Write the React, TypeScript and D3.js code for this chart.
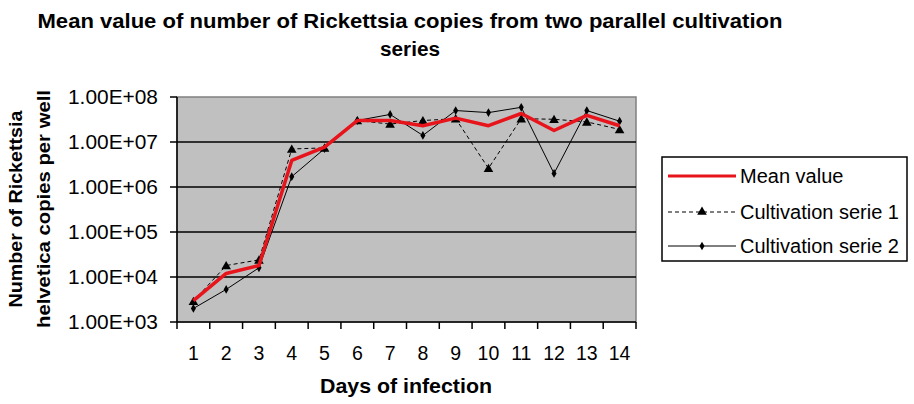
import React from "react";
import * as d3 from "d3";

const days = [1, 2, 3, 4, 5, 6, 7, 8, 9, 10, 11, 12, 13, 14];
const meanValue = [3.0e3, 1.2e4, 1.8e4, 3.9e6, 7.7e6, 3.0e7, 3.0e7, 2.3e7, 3.4e7, 2.3e7, 4.3e7, 1.8e7, 3.9e7, 2.3e7];
const serie1 = [2.9e3, 1.8e4, 2.4e4, 7.0e6, 7.4e6, 3.0e7, 2.5e7, 3.0e7, 3.3e7, 2.6e6, 3.3e7, 3.2e7, 2.8e7, 1.9e7];
const serie2 = [2.0e3, 5.3e3, 1.6e4, 1.7e6, 7.1e6, 3.0e7, 4.1e7, 1.4e7, 5.0e7, 4.5e7, 5.9e7, 2.0e6, 5.0e7, 2.9e7];
const yTicks = [1e3, 1e4, 1e5, 1e6, 1e7, 1e8];
const yTickLabels = ["1.00E+03", "1.00E+04", "1.00E+05", "1.00E+06", "1.00E+07", "1.00E+08"];
const legendLabels = ["Mean value", "Cultivation serie 1", "Cultivation serie 2"];

const W = 914, H = 404;
const plot = { left: 177, right: 636, top: 97, bottom: 322 };
const font = "'Liberation Sans', Arial, sans-serif";
const narrow = "'Liberation Sans Narrow', 'Arial Narrow', 'Liberation Sans', Arial, sans-serif";

export default function App() {
  const x = d3.scaleBand<number>().domain(days).range([plot.left, plot.right]);
  const y = d3.scaleLog().domain([1e3, 1e8]).range([plot.bottom, plot.top]);
  const cx = (d: number) => (x(d) as number) + x.bandwidth() / 2;
  const line = d3.line<number>().x((_, i) => cx(days[i])).y((v) => y(v));
  const tri = d3.symbol().type(d3.symbolTriangle).size(40)();
  const dia = d3.symbol().type(d3.symbolDiamond).size(22)();
  const boundaries = days.map((d) => x(d) as number).concat([plot.right]);
  const legendY = [176, 212, 246];

  return (
    <svg width={W} height={H} style={{ position: "absolute", left: 0, top: 0, background: "#fff" }}>
      <rect x={0} y={0} width={W} height={H} fill="#fff" />
      {/* Title */}
      <text x={410} y={28} textAnchor="middle" fontFamily={narrow} fontWeight="bold" fontSize={20} textLength={745} lengthAdjust="spacingAndGlyphs">
        Mean value of number of Rickettsia copies from two parallel cultivation
      </text>
      <text x={410} y={56} textAnchor="middle" fontFamily={narrow} fontWeight="bold" fontSize={20} textLength={60} lengthAdjust="spacingAndGlyphs">
        series
      </text>
      {/* Plot area */}
      <rect x={plot.left} y={plot.top} width={plot.right - plot.left} height={plot.bottom - plot.top} fill="#c0c0c0" stroke="#808080" strokeWidth={1.5} />
      {yTicks.slice(1, -1).map((t) => (
        <line key={t} x1={plot.left} x2={plot.right} y1={y(t)} y2={y(t)} stroke="#000" strokeWidth={1.6} />
      ))}
      {/* Axes */}
      <line x1={plot.left} x2={plot.left} y1={plot.top} y2={plot.bottom} stroke="#000" strokeWidth={1.5} />
      <line x1={plot.left} x2={plot.right} y1={plot.bottom} y2={plot.bottom} stroke="#000" strokeWidth={1.5} />
      {yTicks.map((t, i) => (
        <g key={t}>
          <line x1={plot.left - 7} x2={plot.left} y1={y(t)} y2={y(t)} stroke="#000" strokeWidth={1.5} />
          <text x={158} y={y(t) + 7} textAnchor="end" fontFamily={font} fontSize={20} textLength={90} lengthAdjust="spacingAndGlyphs">{yTickLabels[i]}</text>
        </g>
      ))}
      {boundaries.map((b, i) => (
        <line key={i} x1={b} x2={b} y1={plot.bottom} y2={plot.bottom + 7} stroke="#000" strokeWidth={1.5} />
      ))}
      {days.map((d) => (
        <text key={d} x={cx(d)} y={360} textAnchor="middle" fontFamily={font} fontSize={19.5}>{d}</text>
      ))}
      <text x={406} y={393} textAnchor="middle" fontFamily={narrow} fontWeight="bold" fontSize={21} textLength={172} lengthAdjust="spacingAndGlyphs">Days of infection</text>
      <text transform="translate(22,209) rotate(-90)" textAnchor="middle" fontFamily={font} fontWeight="bold" fontSize={19} textLength={197} lengthAdjust="spacingAndGlyphs">Number of Rickettsia</text>
      <text transform="translate(50,209) rotate(-90)" textAnchor="middle" fontFamily={font} fontWeight="bold" fontSize={19} textLength={238} lengthAdjust="spacingAndGlyphs">helvetica copies per well</text>
      {/* Series */}
      <path d={line(serie2) || ""} fill="none" stroke="#000" strokeWidth={1} />
      {serie2.map((v, i) => (
        <path key={"d" + i} d={dia || ""} transform={`translate(${cx(days[i])},${y(v)})`} fill="#000" />
      ))}
      <path d={line(serie1) || ""} fill="none" stroke="#000" strokeWidth={1} strokeDasharray="4,3" />
      {serie1.map((v, i) => (
        <path key={"t" + i} d={tri || ""} transform={`translate(${cx(days[i])},${y(v) + 1})`} fill="#000" />
      ))}
      <path d={line(meanValue) || ""} fill="none" stroke="#e8141c" strokeWidth={3.5} strokeLinejoin="round" />
      {/* Legend */}
      <rect x={662} y={157} width={245} height={104} fill="#fff" stroke="#000" strokeWidth={1.5} />
      <line x1={668} x2={736} y1={legendY[0]} y2={legendY[0]} stroke="#e8141c" strokeWidth={3} />
      <line x1={668} x2={736} y1={legendY[1]} y2={legendY[1]} stroke="#000" strokeWidth={1} strokeDasharray="4,3" />
      <path d={tri || ""} transform={`translate(702,${legendY[1]})`} fill="#000" />
      <line x1={668} x2={736} y1={legendY[2]} y2={legendY[2]} stroke="#000" strokeWidth={1} />
      <path d={dia || ""} transform={`translate(702,${legendY[2]})`} fill="#000" />
      {legendLabels.map((l, i) => (
        <text key={l} x={740} y={legendY[i] + 7} fontFamily={font} fontSize={20}>{l}</text>
      ))}
    </svg>
  );
}
